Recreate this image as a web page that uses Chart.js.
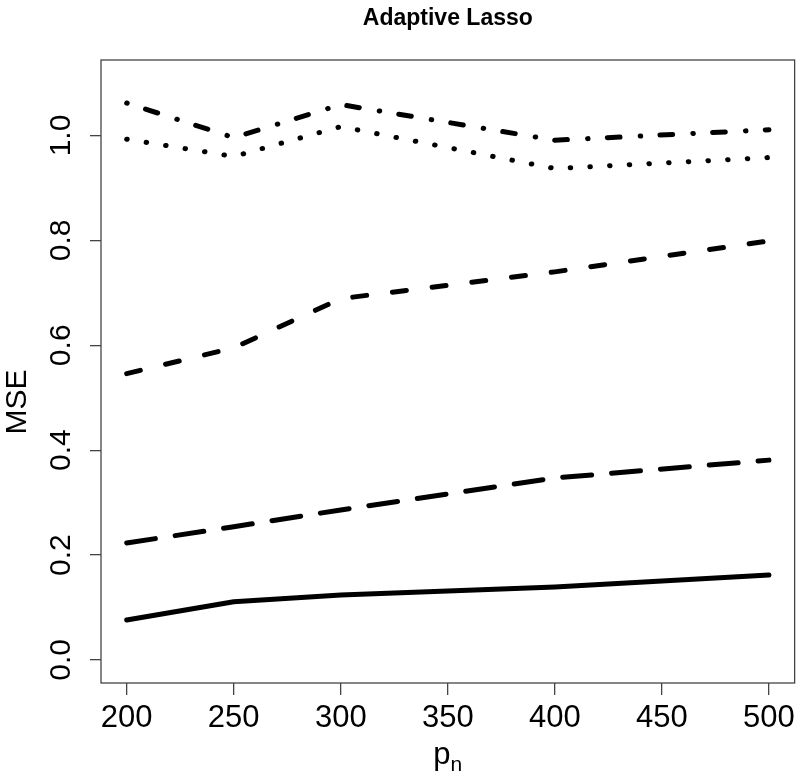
<!DOCTYPE html>
<html>
<head>
<meta charset="utf-8">
<script src="https://cdn.jsdelivr.net/npm/chart.js@4/dist/chart.umd.min.js"></script>
<style>
  html, body { margin: 0; padding: 0; background: #fff; }
  #wrap { width: 800px; height: 777px; }
</style>
</head>
<body>
<div id="wrap"><canvas id="chart" width="800" height="777"></canvas></div>
<script>
// values
const pn = [200, 250, 300, 400, 500];
const mseSolid = [0.076, 0.111, 0.124, 0.139, 0.162];
const mseLongDash = [0.223, 0.254, 0.286, 0.347, 0.381];
const mseDashed = [0.546, 0.595, 0.689, 0.740, 0.799];
const mseDotted = [0.993, 0.960, 1.017, 0.937, 0.958];
const mseDotDash = [1.062, 0.996, 1.059, 0.991, 1.011];

const xTicks = [200, 250, 300, 350, 400, 450, 500];
const yTicks = [0.0, 0.2, 0.4, 0.6, 0.8, 1.0];
const yTickLabels = ['0.0', '0.2', '0.4', '0.6', '0.8', '1.0'];

const FONT = '"Liberation Sans", Arial, Helvetica, sans-serif';
const AXIS_COLOR = '#444';

function series(values, dash) {
  return {
    data: pn.map((p, i) => ({ x: p, y: values[i] })),
    borderColor: '#000',
    borderWidth: 5,
    borderDash: dash,
    borderCapStyle: 'round',
    borderJoinStyle: 'round',
    pointRadius: 0,
    tension: 0,
    fill: false,
  };
}

// R style box, rotated y labels and the subscripted x title
const rDecor = {
  id: 'rDecor',
  afterDraw(chart) {
    const { ctx, chartArea: a, scales } = chart;
    ctx.save();
    ctx.strokeStyle = AXIS_COLOR;
    ctx.lineWidth = 1.3;
    ctx.strokeRect(a.left, a.top, a.right - a.left, a.bottom - a.top);

    ctx.fillStyle = '#000';
    ctx.font = `30px ${FONT}`;
    ctx.textAlign = 'center';
    ctx.textBaseline = 'middle';
    yTicks.forEach((v, i) => {
      const y = scales.y.getPixelForValue(v);
      ctx.save();
      ctx.translate(62, y);
      ctx.rotate(-Math.PI / 2);
      ctx.fillText(yTickLabels[i], 0, 0);
      ctx.restore();
    });

    // y title
    ctx.save();
    ctx.font = `30px ${FONT}`;
    ctx.translate(18, 402);
    ctx.rotate(-Math.PI / 2);
    ctx.fillText('MSE', 0, 0);
    ctx.restore();

    // x title p with subscript n
    const cx = (a.left + a.right) / 2;
    ctx.textAlign = 'left';
    ctx.textBaseline = 'alphabetic';
    ctx.font = `31px ${FONT}`;
    const pw = ctx.measureText('p').width;
    ctx.font = `21px ${FONT}`;
    const nw = ctx.measureText('n').width;
    const x0 = cx - (pw + nw) / 2;
    ctx.font = `31px ${FONT}`;
    ctx.fillText('p', x0, 764);
    ctx.font = `21px ${FONT}`;
    ctx.fillText('n', x0 + pw, 771);
    ctx.restore();
  },
};

new Chart(document.getElementById('chart'), {
  type: 'line',
  data: {
    datasets: [
      series(mseSolid, []),
      series(mseLongDash, [29, 20]),
      series(mseDashed, [14, 26]),
      series(mseDotted, [0.5, 19.2]),
      series(mseDotDash, [0.5, 19.3, 12.7, 20.2]),
    ],
  },
  options: {
    responsive: false,
    animation: false,
    layout: { padding: { left: 0, right: 4, top: 0, bottom: 0 } },
    plugins: {
      legend: { display: false },
      tooltip: { enabled: false },
      title: {
        display: true,
        text: 'Adaptive Lasso',
        fullSize: false,
        color: '#000',
        font: { family: FONT, size: 23, weight: 'bold', lineHeight: 1.2 },
        padding: { top: 5, bottom: 27.4 },
      },
    },
    scales: {
      x: {
        type: 'linear',
        min: 188,
        max: 512,
        afterBuildTicks: (s) => { s.ticks = xTicks.map((v) => ({ value: v })); },
        afterFit: (s) => { s.height = 94; },
        border: { display: false },
        grid: { drawOnChartArea: false, drawTicks: true, tickLength: 12, tickColor: AXIS_COLOR, lineWidth: 1.3 },
        ticks: {
          color: '#000',
          font: { family: FONT, size: 31 },
          padding: 5,
          maxRotation: 0,
          minRotation: 0,
          autoSkip: false,
        },
      },
      y: {
        type: 'linear',
        min: -0.044,
        max: 1.144,
        afterBuildTicks: (s) => { s.ticks = yTicks.map((v) => ({ value: v })); },
        afterFit: (s) => { s.width = 101; },
        border: { display: false },
        grid: { drawOnChartArea: false, drawTicks: true, tickLength: 11, tickColor: AXIS_COLOR, lineWidth: 1.3 },
        ticks: { display: false },
      },
    },
  },
  plugins: [rDecor],
});
</script>
</body>
</html>
